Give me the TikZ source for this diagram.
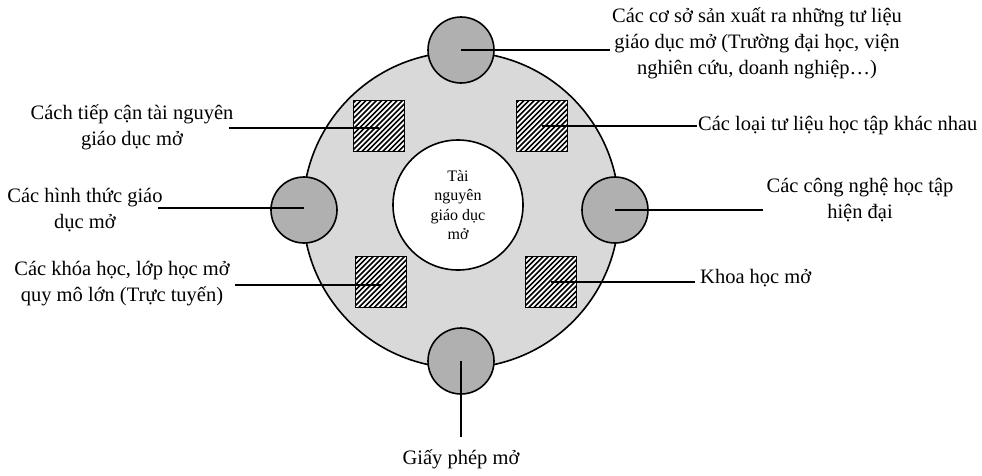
\documentclass[tikz,border=0pt]{standalone}
\usepackage{fontspec}
\setmainfont{Liberation Serif}
\begin{document}
\begin{tikzpicture}[x=1pt,y=-1pt,
  ring/.style={circle,draw=black,line width=1.6pt,fill=ringgray,minimum size=316pt,inner sep=0pt},
  core/.style={circle,draw=black,line width=1.6pt,fill=white,minimum size=130pt,inner sep=0pt,
    align=center,font=\fontsize{16}{19.5}\selectfont},
  dot/.style={circle,draw=black,line width=1.6pt,fill=dotgray,minimum size=66pt,inner sep=0pt},
  hatchbox/.style={draw=black,line width=1.6pt,fill=white,minimum size=51pt,inner sep=0pt,
    path picture={
      \foreach \i in {-80,-74.8,...,80}
        \draw[line width=1.6pt,shift={(path picture bounding box.center)}]
          ({\i-40},40) -- ++(80,-80);}},
  lead/.style={draw=black,line width=1.6pt},
  lbl/.style={align=center,inner sep=0pt,font=\fontsize{20.5}{26}\selectfont}
]
\definecolor{ringgray}{RGB}{217,217,217}
\definecolor{dotgray}{RGB}{176,176,176}
\useasboundingbox[fill=white] (0,0) rectangle (982,475);

% outer ring and central disc
\node[ring] (ring) at (461,210) {};
\node[core] (core) at (458,205) {Tài\\nguyên\\giáo dục\\mở};

% hatched boxes
\node[hatchbox] (sqA) at (379,126) {};
\node[hatchbox] (sqB) at (542,126) {};
\node[hatchbox] (sqC) at (381,282) {};
\node[hatchbox] (sqD) at (551,282) {};

% discs on the rim
\node[dot] (dTop) at (461,50) {};
\node[dot] (dLeft) at (304,210) {};
\node[dot] (dRight) at (615,210) {};
\node[dot] (dBot) at (461,361) {};

% labels
\node[lbl] (tTop) at (757,43) {Các cơ sở sản xuất ra những tư liệu\\giáo dục mở (Trường đại học, viện\\nghiên cứu, doanh nghiệp…)};
\node[lbl] (tA) at (132,127) {Cách tiếp cận tài nguyên\\giáo dục mở};
\node[lbl] (tLeft) at (85,210) {Các hình thức giáo\\dục mở};
\node[lbl] (tC) at (122,284) {Các khóa học, lớp học mở\\quy mô lớn (Trực tuyến)};
\node[lbl,anchor=west] (tB) at (698,126) {Các loại tư liệu học tập khác nhau};
\node[lbl] (tRight) at (860,200) {Các công nghệ học tập\\hiện đại};
\node[lbl,anchor=west] (tD) at (700,278) {Khoa học mở};
\node[lbl] (tBot) at (461,459) {Giấy phép mở};

% free ends of the leader lines
\coordinate (eTop) at (610,50);
\coordinate (eA) at (229,128);
\coordinate (eB) at (697,126);
\coordinate (eLeft) at (158,208);
\coordinate (eRight) at (763,210);
\coordinate (eC) at (235,285);
\coordinate (eD) at (695,282);
\coordinate (eBot) at (461,437);

% leader lines
\draw[lead] (dTop.center) -- (eTop);
\draw[lead] (eA) -- (eA -| sqA.center);
\draw[lead] (eB -| sqB.center) -- (eB);
\draw[lead] (eLeft) -- (eLeft -| dLeft.center);
\draw[lead] (eRight -| dRight.center) -- (eRight);
\draw[lead] (eC) -- (eC -| sqC.center);
\draw[lead] (eD -| sqD.center) -- (eD);
\draw[lead] (dBot.center) -- (eBot);
\end{tikzpicture}
\end{document}
